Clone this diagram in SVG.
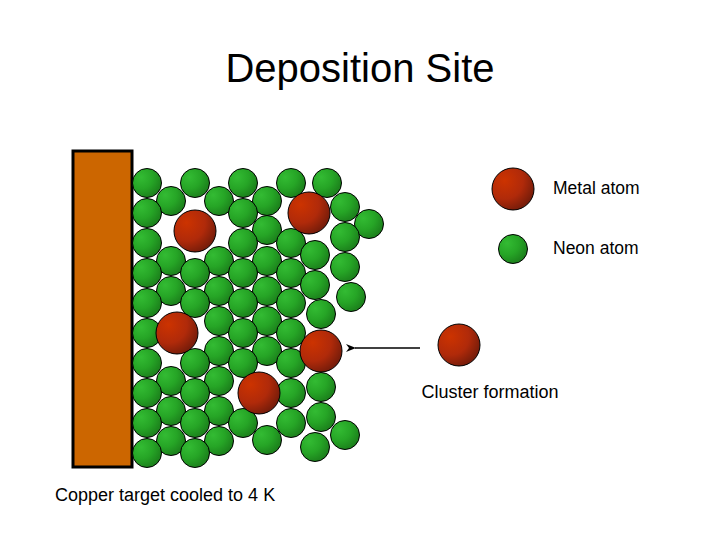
<svg xmlns="http://www.w3.org/2000/svg" width="720" height="540" viewBox="0 0 720 540">
<defs>
<radialGradient id="gg" cx="0.3" cy="0.3" r="0.8"><stop offset="0" stop-color="#33bb33"/><stop offset="0.5" stop-color="#26a526"/><stop offset="1" stop-color="#1a7a1a"/></radialGradient>
<radialGradient id="rg" cx="0.3" cy="0.3" r="0.8"><stop offset="0" stop-color="#cc3300"/><stop offset="0.55" stop-color="#b02a0a"/><stop offset="1" stop-color="#6e1a0a"/></radialGradient>
<marker id="ah" markerWidth="10" markerHeight="8" refX="1" refY="4" orient="auto-start-reverse" markerUnits="userSpaceOnUse"><path d="M0,4 L10,0 L7,4 L10,8 Z" fill="#000"/></marker>
</defs>
<style>
.n{fill:url(#gg);stroke:#000;stroke-width:1}
.m{fill:url(#rg);stroke:#000;stroke-width:1}
text{font-family:"Liberation Sans",Arial,sans-serif;fill:#000}
</style>
<rect width="720" height="540" fill="#fff"/>
<text x="360" y="82" font-size="40" text-anchor="middle">Deposition Site</text>
<g id="target"><rect x="73" y="151" width="59" height="316" fill="#cc6600" stroke="#000" stroke-width="3"/></g>
<g id="neon-atoms">
<circle class="n" cx="147" cy="183" r="14.5"/><circle class="n" cx="195" cy="183" r="14.5"/><circle class="n" cx="243" cy="183" r="14.5"/><circle class="n" cx="291" cy="183" r="14.5"/><circle class="n" cx="327" cy="183" r="14.5"/>
<circle class="n" cx="171" cy="201" r="14.5"/><circle class="n" cx="219" cy="201" r="14.5"/><circle class="n" cx="267" cy="201" r="14.5"/><circle class="n" cx="345" cy="207" r="14.5"/>
<circle class="n" cx="147" cy="213" r="14.5"/><circle class="n" cx="243" cy="213" r="14.5"/><circle class="n" cx="369" cy="224" r="14.5"/>
<circle class="n" cx="267" cy="230" r="14.5"/><circle class="n" cx="147" cy="243" r="14.5"/><circle class="n" cx="243" cy="243" r="14.5"/><circle class="n" cx="291" cy="243" r="14.5"/><circle class="n" cx="345" cy="237" r="14.5"/>
<circle class="n" cx="171" cy="261" r="14.5"/><circle class="n" cx="219" cy="261" r="14.5"/><circle class="n" cx="267" cy="261" r="14.5"/><circle class="n" cx="315" cy="255" r="14.5"/>
<circle class="n" cx="147" cy="273" r="14.5"/><circle class="n" cx="195" cy="273" r="14.5"/><circle class="n" cx="243" cy="273" r="14.5"/><circle class="n" cx="291" cy="273" r="14.5"/><circle class="n" cx="345" cy="267" r="14.5"/>
<circle class="n" cx="171" cy="291" r="14.5"/><circle class="n" cx="219" cy="291" r="14.5"/><circle class="n" cx="267" cy="291" r="14.5"/><circle class="n" cx="315" cy="285" r="14.5"/><circle class="n" cx="351" cy="297" r="14.5"/>
<circle class="n" cx="147" cy="303" r="14.5"/><circle class="n" cx="195" cy="303" r="14.5"/><circle class="n" cx="243" cy="303" r="14.5"/><circle class="n" cx="291" cy="303" r="14.5"/>
<circle class="n" cx="219" cy="321" r="14.5"/><circle class="n" cx="267" cy="321" r="14.5"/><circle class="n" cx="321" cy="314" r="14.5"/>
<circle class="n" cx="147" cy="333" r="14.5"/><circle class="n" cx="243" cy="333" r="14.5"/><circle class="n" cx="291" cy="333" r="14.5"/>
<circle class="n" cx="219" cy="351" r="14.5"/><circle class="n" cx="267" cy="351" r="14.5"/>
<circle class="n" cx="147" cy="363" r="14.5"/><circle class="n" cx="195" cy="363" r="14.5"/><circle class="n" cx="243" cy="363" r="14.5"/><circle class="n" cx="291" cy="363" r="14.5"/>
<circle class="n" cx="171" cy="381" r="14.5"/><circle class="n" cx="219" cy="381" r="14.5"/><circle class="n" cx="321" cy="387" r="14.5"/>
<circle class="n" cx="147" cy="393" r="14.5"/><circle class="n" cx="195" cy="393" r="14.5"/><circle class="n" cx="291" cy="393" r="14.5"/>
<circle class="n" cx="171" cy="411" r="14.5"/><circle class="n" cx="219" cy="411" r="14.5"/><circle class="n" cx="321" cy="417" r="14.5"/>
<circle class="n" cx="147" cy="423" r="14.5"/><circle class="n" cx="195" cy="423" r="14.5"/><circle class="n" cx="243" cy="423" r="14.5"/><circle class="n" cx="291" cy="423" r="14.5"/>
<circle class="n" cx="171" cy="441" r="14.5"/><circle class="n" cx="219" cy="441" r="14.5"/><circle class="n" cx="267" cy="440" r="14.5"/><circle class="n" cx="345" cy="435" r="14.5"/><circle class="n" cx="315" cy="447" r="14.5"/>
<circle class="n" cx="147" cy="453" r="14.5"/><circle class="n" cx="195" cy="453" r="14.5"/>
</g>
<g id="metal-atoms">
<circle class="m" cx="195" cy="231" r="21"/><circle class="m" cx="309" cy="213" r="21"/><circle class="m" cx="177" cy="333" r="21"/><circle class="m" cx="321" cy="351" r="21"/><circle class="m" cx="259" cy="393" r="21"/>
</g>
<g id="incoming"><circle class="m" cx="459" cy="345" r="21"/></g>
<g id="connectors"><line x1="420" y1="348" x2="355" y2="348" stroke="#000" stroke-width="1.5" marker-end="url(#ah)"/></g>
<g id="legend-metal"><circle class="m" cx="513" cy="189" r="21"/><text x="553" y="194" font-size="17.5">Metal atom</text></g>
<g id="legend-neon"><circle class="n" cx="513" cy="249" r="14.5"/><text x="553" y="254" font-size="17.5">Neon atom</text></g>
<text x="490" y="398" font-size="18" text-anchor="middle">Cluster formation</text>
<text x="55" y="501" font-size="18">Copper target cooled to 4 K</text>
</svg>
